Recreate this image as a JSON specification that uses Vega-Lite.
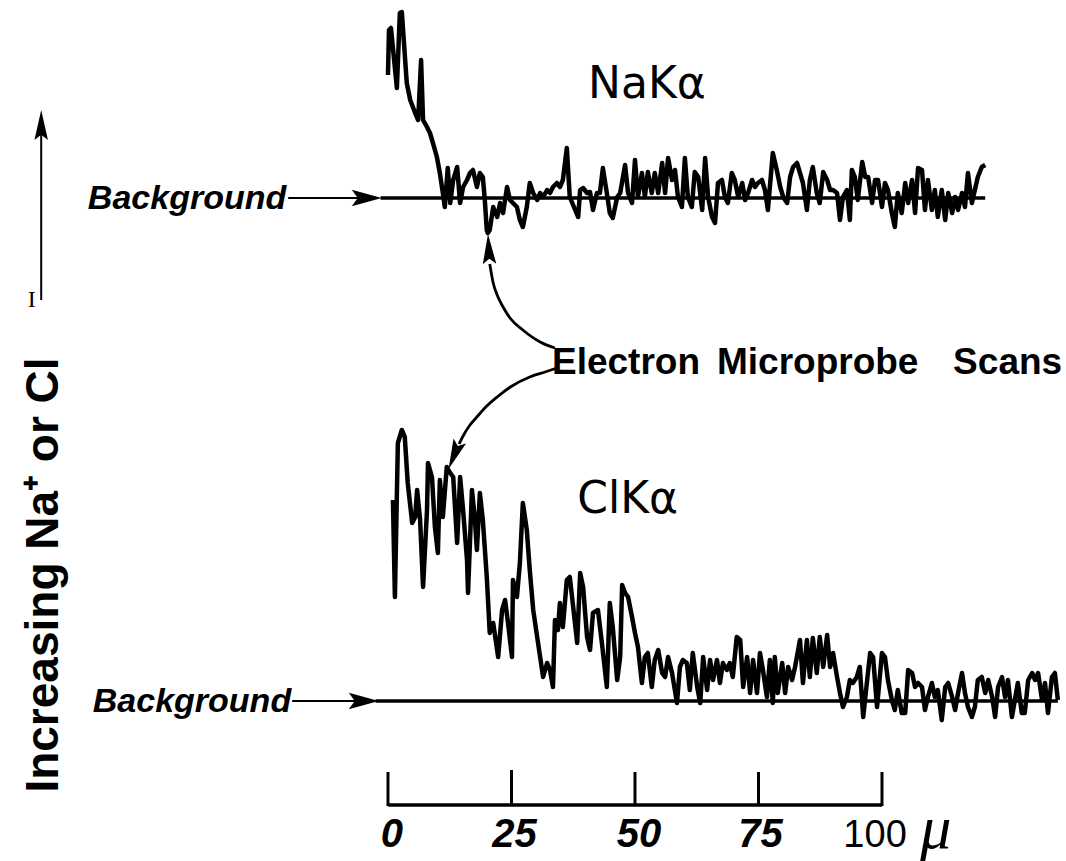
{
"$schema": "https://vega.github.io/schema/vega-lite/v6.json",
"width": 1066, "height": 861,
"autosize": {"type": "fit", "contains": "padding"},
"padding": 0,
"background": "white",
"config": {"view": {"stroke": null}},
"datasets": {
"na": [
{"x":0,"y":75},{"x":0.2,"y":30},{"x":0.6,"y":28},{"x":1.8,"y":88},{"x":2.4,"y":13},{"x":2.8,"y":12},{"x":3.8,"y":83},{"x":4.5,"y":100},{"x":5.5,"y":113},{"x":6.1,"y":120},{"x":6.7,"y":60},{"x":7.1,"y":120},{"x":7.9,"y":127},{"x":8.5,"y":133},{"x":9.1,"y":143},{"x":9.9,"y":157},{"x":10.5,"y":173},{"x":11.1,"y":193},{"x":11.5,"y":207},{"x":12.1,"y":168},{"x":12.6,"y":203},{"x":13.2,"y":180},{"x":14.0,"y":167},{"x":14.6,"y":203},{"x":15.2,"y":187},{"x":16.0,"y":180},{"x":16.6,"y":173},{"x":17.2,"y":170},{"x":18.0,"y":187},{"x":18.6,"y":173},{"x":19.2,"y":177},{"x":19.6,"y":200},{"x":20.0,"y":230},{"x":20.2,"y":233},{"x":20.6,"y":230},{"x":21.3,"y":207},{"x":22.1,"y":217},{"x":22.7,"y":203},{"x":23.3,"y":213},{"x":24.1,"y":187},{"x":24.7,"y":200},{"x":25.3,"y":203},{"x":26.1,"y":207},{"x":26.7,"y":220},{"x":27.3,"y":227},{"x":28.1,"y":207},{"x":28.7,"y":183},{"x":29.4,"y":193},{"x":30.2,"y":200},{"x":30.8,"y":193},{"x":31.4,"y":197},{"x":32.2,"y":190},{"x":32.8,"y":193},{"x":33.4,"y":187},{"x":34.2,"y":183},{"x":34.8,"y":187},{"x":35.4,"y":180},{"x":36.2,"y":148},{"x":36.8,"y":197},{"x":37.9,"y":210},{"x":38.5,"y":217},{"x":38.9,"y":190},{"x":39.5,"y":188},{"x":40.3,"y":193},{"x":40.9,"y":192},{"x":41.5,"y":210},{"x":42.3,"y":193},{"x":42.9,"y":193},{"x":43.5,"y":168},{"x":44.3,"y":193},{"x":44.9,"y":213},{"x":45.5,"y":218},{"x":46.4,"y":197},{"x":47.0,"y":193},{"x":48.0,"y":165},{"x":48.6,"y":193},{"x":49.4,"y":203},{"x":50.0,"y":160},{"x":50.6,"y":197},{"x":51.4,"y":173},{"x":52.0,"y":197},{"x":52.6,"y":172},{"x":53.4,"y":193},{"x":54.0,"y":173},{"x":54.7,"y":193},{"x":55.5,"y":163},{"x":56.1,"y":193},{"x":56.7,"y":158},{"x":57.5,"y":180},{"x":58.1,"y":170},{"x":58.7,"y":197},{"x":59.5,"y":207},{"x":60.1,"y":158},{"x":60.7,"y":197},{"x":61.5,"y":207},{"x":62.1,"y":172},{"x":62.8,"y":177},{"x":63.6,"y":210},{"x":64.2,"y":158},{"x":64.8,"y":197},{"x":65.6,"y":217},{"x":66.2,"y":223},{"x":66.8,"y":183},{"x":67.6,"y":180},{"x":68.2,"y":197},{"x":68.8,"y":203},{"x":69.6,"y":173},{"x":70.2,"y":180},{"x":70.9,"y":197},{"x":71.7,"y":183},{"x":72.3,"y":200},{"x":72.9,"y":193},{"x":73.7,"y":180},{"x":74.3,"y":187},{"x":74.9,"y":183},{"x":75.7,"y":180},{"x":76.3,"y":190},{"x":76.9,"y":210},{"x":77.9,"y":153},{"x":78.7,"y":170},{"x":79.4,"y":187},{"x":80.0,"y":197},{"x":80.8,"y":203},{"x":81.4,"y":177},{"x":82.0,"y":167},{"x":82.8,"y":163},{"x":83.4,"y":173},{"x":84.0,"y":183},{"x":84.8,"y":210},{"x":85.4,"y":180},{"x":86.0,"y":167},{"x":86.8,"y":193},{"x":87.4,"y":203},{"x":88.1,"y":172},{"x":88.9,"y":180},{"x":89.5,"y":190},{"x":90.1,"y":190},{"x":90.9,"y":193},{"x":91.5,"y":220},{"x":92.1,"y":197},{"x":92.9,"y":190},{"x":93.5,"y":220},{"x":93.9,"y":170},{"x":94.5,"y":177},{"x":95.1,"y":200},{"x":96.0,"y":162},{"x":96.6,"y":177},{"x":97.2,"y":177},{"x":98.0,"y":203},{"x":98.6,"y":180},{"x":99.2,"y":180},{"x":100.0,"y":207},{"x":100.6,"y":183},{"x":101.2,"y":190},{"x":102.0,"y":213},{"x":102.6,"y":227},{"x":103.2,"y":193},{"x":104.0,"y":213},{"x":104.7,"y":183},{"x":105.3,"y":203},{"x":106.1,"y":180},{"x":106.7,"y":213},{"x":107.3,"y":168},{"x":108.1,"y":170},{"x":108.7,"y":210},{"x":109.3,"y":180},{"x":110.1,"y":210},{"x":110.7,"y":190},{"x":111.3,"y":217},{"x":112.1,"y":190},{"x":112.8,"y":220},{"x":113.4,"y":193},{"x":114.2,"y":213},{"x":114.8,"y":197},{"x":115.4,"y":210},{"x":116.2,"y":193},{"x":116.8,"y":207},{"x":117.4,"y":173},{"x":118.2,"y":203},{"x":118.8,"y":190},{"x":119.4,"y":177},{"x":120.2,"y":167},{"x":120.9,"y":165}
],
"cl": [
{"x":1.0,"y":500},{"x":1.4,"y":597},{"x":2.0,"y":443},{"x":2.8,"y":430},{"x":3.4,"y":437},{"x":4.0,"y":483},{"x":4.9,"y":523},{"x":5.5,"y":517},{"x":5.9,"y":490},{"x":6.5,"y":520},{"x":7.1,"y":587},{"x":7.9,"y":510},{"x":8.1,"y":463},{"x":8.9,"y":477},{"x":9.5,"y":527},{"x":10.1,"y":553},{"x":10.5,"y":480},{"x":11.1,"y":517},{"x":11.9,"y":467},{"x":12.6,"y":473},{"x":13.2,"y":477},{"x":14.0,"y":543},{"x":14.6,"y":477},{"x":15.2,"y":510},{"x":16.0,"y":560},{"x":16.2,"y":593},{"x":17.0,"y":490},{"x":17.6,"y":520},{"x":18.0,"y":550},{"x":18.6,"y":493},{"x":19.2,"y":520},{"x":20.0,"y":577},{"x":20.6,"y":633},{"x":21.3,"y":623},{"x":22.3,"y":657},{"x":23.1,"y":610},{"x":23.7,"y":600},{"x":24.3,"y":623},{"x":25.1,"y":657},{"x":25.3,"y":580},{"x":26.1,"y":597},{"x":26.7,"y":563},{"x":27.3,"y":503},{"x":28.1,"y":530},{"x":28.7,"y":570},{"x":29.4,"y":610},{"x":30.2,"y":637},{"x":30.8,"y":657},{"x":31.4,"y":677},{"x":32.2,"y":663},{"x":32.8,"y":670},{"x":33.4,"y":687},{"x":33.8,"y":620},{"x":34.4,"y":630},{"x":34.8,"y":603},{"x":35.4,"y":627},{"x":36.2,"y":580},{"x":36.8,"y":577},{"x":37.4,"y":603},{"x":38.3,"y":643},{"x":38.9,"y":573},{"x":39.5,"y":587},{"x":40.3,"y":637},{"x":40.9,"y":650},{"x":41.5,"y":613},{"x":42.5,"y":610},{"x":43.3,"y":643},{"x":44.3,"y":687},{"x":44.9,"y":603},{"x":45.5,"y":627},{"x":46.4,"y":680},{"x":47.0,"y":657},{"x":47.4,"y":585},{"x":48.0,"y":593},{"x":48.6,"y":597},{"x":49.4,"y":617},{"x":50.0,"y":633},{"x":50.6,"y":647},{"x":51.4,"y":683},{"x":52.0,"y":657},{"x":52.6,"y":653},{"x":53.4,"y":687},{"x":54.0,"y":660},{"x":54.7,"y":650},{"x":55.5,"y":673},{"x":56.1,"y":677},{"x":56.7,"y":657},{"x":57.5,"y":673},{"x":58.5,"y":703},{"x":59.1,"y":667},{"x":59.7,"y":660},{"x":60.5,"y":663},{"x":61.1,"y":690},{"x":61.7,"y":653},{"x":62.6,"y":687},{"x":63.2,"y":703},{"x":63.8,"y":657},{"x":64.6,"y":690},{"x":65.2,"y":660},{"x":65.8,"y":680},{"x":66.6,"y":660},{"x":67.2,"y":683},{"x":67.8,"y":663},{"x":68.6,"y":670},{"x":69.2,"y":663},{"x":69.8,"y":677},{"x":70.6,"y":637},{"x":71.3,"y":640},{"x":71.9,"y":687},{"x":72.7,"y":657},{"x":73.3,"y":693},{"x":73.9,"y":660},{"x":74.7,"y":693},{"x":75.3,"y":653},{"x":75.9,"y":670},{"x":76.7,"y":697},{"x":77.3,"y":660},{"x":77.9,"y":703},{"x":78.3,"y":657},{"x":78.9,"y":693},{"x":79.8,"y":663},{"x":80.4,"y":693},{"x":81.0,"y":667},{"x":81.8,"y":680},{"x":82.4,"y":667},{"x":83.4,"y":640},{"x":84.0,"y":683},{"x":84.8,"y":640},{"x":85.4,"y":677},{"x":86.0,"y":638},{"x":86.8,"y":673},{"x":87.4,"y":637},{"x":88.1,"y":667},{"x":88.9,"y":635},{"x":89.5,"y":667},{"x":90.1,"y":653},{"x":90.9,"y":677},{"x":91.5,"y":693},{"x":92.1,"y":707},{"x":92.9,"y":697},{"x":93.5,"y":680},{"x":94.1,"y":683},{"x":94.9,"y":677},{"x":95.5,"y":667},{"x":96.2,"y":717},{"x":97.0,"y":680},{"x":97.6,"y":653},{"x":98.2,"y":657},{"x":99.0,"y":707},{"x":100.0,"y":653},{"x":100.6,"y":657},{"x":101.2,"y":680},{"x":102.0,"y":700},{"x":102.6,"y":710},{"x":103.2,"y":690},{"x":104.0,"y":713},{"x":104.7,"y":713},{"x":105.3,"y":670},{"x":106.1,"y":673},{"x":106.7,"y":687},{"x":107.3,"y":683},{"x":108.1,"y":687},{"x":108.7,"y":710},{"x":109.3,"y":697},{"x":110.1,"y":683},{"x":110.7,"y":697},{"x":111.3,"y":690},{"x":112.1,"y":720},{"x":112.8,"y":687},{"x":113.4,"y":683},{"x":114.2,"y":697},{"x":114.8,"y":710},{"x":115.4,"y":693},{"x":116.2,"y":673},{"x":116.8,"y":693},{"x":117.4,"y":707},{"x":118.2,"y":717},{"x":118.8,"y":707},{"x":119.4,"y":680},{"x":120.2,"y":677},{"x":120.9,"y":693},{"x":121.5,"y":680},{"x":122.3,"y":697},{"x":122.9,"y":717},{"x":123.5,"y":687},{"x":124.3,"y":677},{"x":124.9,"y":697},{"x":125.5,"y":680},{"x":126.3,"y":717},{"x":126.9,"y":700},{"x":127.5,"y":683},{"x":128.3,"y":713},{"x":128.9,"y":713},{"x":129.6,"y":680},{"x":130.4,"y":673},{"x":131.0,"y":680},{"x":131.6,"y":673},{"x":132.4,"y":700},{"x":133.0,"y":683},{"x":133.6,"y":713},{"x":134.4,"y":677},{"x":135.0,"y":673},{"x":135.6,"y":700}
],
"curves": [
{"a":"up","i":0,"x":33.8,"y":348},{"a":"up","i":1,"x":30.8,"y":342},{"a":"up","i":2,"x":27.3,"y":330},{"a":"up","i":3,"x":24.7,"y":318},{"a":"up","i":4,"x":23.3,"y":307},{"a":"up","i":5,"x":22.1,"y":295},{"a":"up","i":6,"x":21.3,"y":283},{"a":"up","i":7,"x":20.6,"y":264},
{"a":"down","i":0,"x":34.2,"y":368},{"a":"down","i":1,"x":31.8,"y":372},{"a":"down","i":2,"x":28.7,"y":377},{"a":"down","i":3,"x":25.1,"y":386},{"a":"down","i":4,"x":22.1,"y":397},{"a":"down","i":5,"x":19.6,"y":408},{"a":"down","i":6,"x":18.0,"y":417},{"a":"down","i":7,"x":16.6,"y":425},{"a":"down","i":8,"x":15.2,"y":436},{"a":"down","i":9,"x":14.4,"y":444}
]
},
"encoding": {
"x": {"field": "x", "type": "quantitative", "scale": {"domain": [-78.54, 137.25], "nice": false, "zero": false}, "axis": null},
"y": {"field": "y", "type": "quantitative", "scale": {"domain": [0, 861], "reverse": true, "nice": false, "zero": false}, "axis": null}
},
"layer": [
{"data": {"values": [{"x": -1.5, "x2": 120.9, "y": 198}, {"x": -2.5, "x2": 135.6, "y": 701}, {"x": 0, "x2": 100, "y": 805}]},
 "mark": {"type": "rule", "color": "black", "strokeWidth": 3.5},
 "encoding": {"x2": {"field": "x2"}}},
{"data": {"values": [{"x": -20.2, "x2": -5, "y": 198}, {"x": -19.4, "x2": -6, "y": 701}]},
 "mark": {"type": "rule", "color": "black", "strokeWidth": 1.8},
 "encoding": {"x2": {"field": "x2"}}},
{"data": {"values": [{"x": 0, "y": 806, "y2": 772}, {"x": 25, "y": 806, "y2": 770}, {"x": 50, "y": 806, "y2": 772}, {"x": 75, "y": 806, "y2": 772}, {"x": 100, "y": 806, "y2": 772}]},
 "mark": {"type": "rule", "color": "black", "strokeWidth": 3},
 "encoding": {"y2": {"field": "y2"}}},
{"data": {"values": [{"x": -70.2, "y": 300, "y2": 128}]},
 "mark": {"type": "rule", "color": "black", "strokeWidth": 2},
 "encoding": {"y2": {"field": "y2"}}},
{"data": {"name": "na"},
 "mark": {"type": "line", "color": "black", "strokeWidth": 4.5, "strokeJoin": "round"}},
{"data": {"name": "cl"},
 "mark": {"type": "line", "color": "black", "strokeWidth": 4.5, "strokeJoin": "round"}},
{"data": {"name": "curves"},
 "mark": {"type": "line", "color": "black", "strokeWidth": 2.8, "interpolate": "monotone"},
 "encoding": {"detail": {"field": "a"}, "order": {"field": "i", "type": "quantitative"}}},
{"data": {"values": [{"x": -4.3, "y": 198}, {"x": -4.9, "y": 701}]},
 "mark": {"type": "point", "shape": "M1,0L-1,-0.55L-0.6,0L-1,0.55Z", "size": 900, "filled": true, "color": "black", "opacity": 1, "strokeWidth": 0}},
{"data": {"values": [{"x": -70.2, "y": 125}]},
 "mark": {"type": "point", "shape": "M0,-1L0.45,1L0,0.65L-0.45,1Z", "size": 900, "filled": true, "color": "black", "opacity": 1, "strokeWidth": 0}},
{"data": {"values": [{"x": 20.4, "y": 249}]},
 "mark": {"type": "point", "shape": "M0,-1L0.45,1L0,0.65L-0.45,1Z", "size": 900, "angle": 357, "filled": true, "color": "black", "opacity": 1, "strokeWidth": 0}},
{"data": {"values": [{"x": 13.4, "y": 455}]},
 "mark": {"type": "point", "shape": "M0,-1L0.45,1L0,0.65L-0.45,1Z", "size": 900, "angle": 202, "filled": true, "color": "black", "opacity": 1, "strokeWidth": 0}},
{"data": {"values": [{"x": -20.6, "y": 209, "t": "Background"}, {"x": -19.6, "y": 712, "t": "Background"}]},
 "mark": {"type": "text", "font": "Liberation Sans", "fontWeight": "bold", "fontStyle": "italic", "fontSize": 34, "align": "right", "baseline": "alphabetic", "color": "black"},
 "encoding": {"text": {"field": "t"}}},
{"data": {"values": [{"x": 40.5, "y": 98, "t": "NaKα"}, {"x": 38.3, "y": 513, "t": "ClKα"}]},
 "mark": {"type": "text", "font": "DejaVu Sans", "fontSize": 44, "align": "left", "baseline": "alphabetic", "color": "black"},
 "encoding": {"text": {"field": "t"}}},
{"data": {"values": [{"x": 33.2, "y": 374, "t": "Electron"}, {"x": 66.6, "y": 374, "t": "Microprobe"}, {"x": 114.4, "y": 374, "t": "Scans"}]},
 "mark": {"type": "text", "font": "Liberation Sans", "fontWeight": "bold", "fontSize": 37, "align": "left", "baseline": "alphabetic", "color": "black"},
 "encoding": {"text": {"field": "t"}}},
{"data": {"values": [{"x": -66.8, "y": 575, "t": "Increasing Na⁺ or Cl"}]},
 "mark": {"type": "text", "font": "Liberation Sans", "fontWeight": "bold", "fontSize": 46, "angle": 270, "align": "center", "baseline": "alphabetic", "color": "black"},
 "encoding": {"text": {"field": "t"}}},
{"data": {"values": [{"x": -72.1, "y": 300, "t": "I"}]},
 "mark": {"type": "text", "font": "Liberation Serif", "fontSize": 24, "align": "center", "baseline": "middle", "color": "black"},
 "encoding": {"text": {"field": "t"}}},
{"data": {"values": [{"x": 0.8, "y": 847, "t": "0"}, {"x": 25.6, "y": 847, "t": "25"}, {"x": 50.8, "y": 847, "t": "50"}, {"x": 75.4, "y": 847, "t": "75"}]},
 "mark": {"type": "text", "font": "Liberation Sans", "fontWeight": "bold", "fontStyle": "italic", "fontSize": 40, "align": "center", "baseline": "alphabetic", "color": "black"},
 "encoding": {"text": {"field": "t"}}},
{"data": {"values": [{"x": 98.6, "y": 847, "t": "100"}]},
 "mark": {"type": "text", "font": "Liberation Sans", "fontSize": 38, "align": "center", "baseline": "alphabetic", "color": "black"},
 "encoding": {"text": {"field": "t"}}},
{"data": {"values": [{"x": 110.9, "y": 848, "t": "μ"}]},
 "mark": {"type": "text", "font": "Liberation Serif", "fontStyle": "italic", "fontSize": 62, "align": "center", "baseline": "alphabetic", "color": "black"},
 "encoding": {"text": {"field": "t"}}}
]
}
